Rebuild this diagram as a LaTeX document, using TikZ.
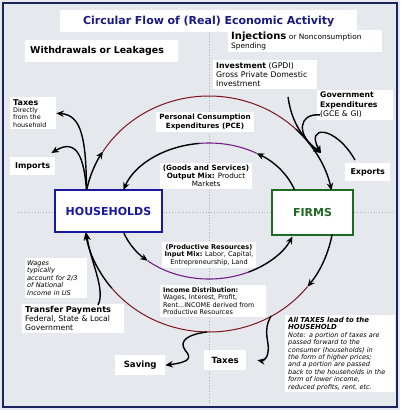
\documentclass[tikz,border=0pt]{standalone}
\usepackage{fontspec}
\setmainfont{DejaVu Sans}
\usetikzlibrary{arrows.meta,calc}
\definecolor{framenavy}{RGB}{28,36,96}
\definecolor{paper}{RGB}{229,232,237}
\definecolor{titleblue}{RGB}{26,26,135}
\definecolor{hhblue}{RGB}{25,25,160}
\definecolor{firmgreen}{RGB}{30,105,35}
\definecolor{arcred}{RGB}{125,20,30}
\definecolor{arcpurple}{RGB}{115,30,140}
\def\ellarc[#1](#2)(#3:#4:#5:#6){\draw[#1] ($(#2)+(#3:#5 and #6)$) arc (#3:#4:#5 and #6);}
\tikzset{
	lbl/.style={fill=white, inner sep=3pt, align=left, anchor=north west},
	sector/.style={draw=#1, line width=1.6pt, fill=white, text=#1, font=\bfseries\fontsize{11}{13}\selectfont},
	flow/.style={line width=1.4pt, -{Stealth[length=7.5pt,width=6.5pt]}},
	rarc/.style={draw=arcred, line width=1pt},
	parc/.style={draw=arcpurple, line width=1.1pt},
	guide/.style={draw=gray!60, dotted, line width=0.8pt}
}

\begin{document}
\begin{tikzpicture}[x=1pt,y=1pt]
			%%%%% START %%%%%
			\useasboundingbox (0,0) rectangle (400,-410);
			\fill[paper] (0,0) rectangle (400,-410);
			\draw[framenavy, line width=2.5pt] (3,-3) rectangle (397,-407);
			
			\draw[guide] (209,-30) -- (209,-404);
			\draw[guide] (18,-212) -- (395,-212);
			
			\node[lbl, text width=291pt, align=center, minimum height=22pt, text=titleblue, font=\bfseries\fontsize{11}{12}\selectfont] (title) at (60,-10) {Circular Flow of (Real) Economic Activity};
			\node[lbl, inner xsep=5pt, text width=143pt, minimum height=22pt, font=\bfseries\fontsize{9.4}{10}\selectfont] (withdraw) at (25,-40) {Withdrawals or Leakages};
			\node[lbl, text width=148pt, inner ysep=2pt, font=\fontsize{7.4}{9}\selectfont] (inject) at (228,-30) {{\bfseries\fontsize{10}{10}\selectfont Injections} or Nonconsumption\\Spending};
			\node[lbl, text width=98pt, inner ysep=2pt, font=\fontsize{7.8}{9.4}\selectfont] (invest) at (213,-60) {\textbf{Investment} (GPDI)\\Gross Private Domestic\\Investment};
			\node[lbl, text width=70pt, inner ysep=2pt, font=\fontsize{7.7}{9.4}\selectfont] (gov) at (317,-90) {\textbf{Government}\\\textbf{Expenditures}\\(GCE \& GI)};
			\node[lbl, text width=40pt, inner ysep=2pt, font=\fontsize{6.4}{7.4}\selectfont] (taxTop) at (10,-97) {{\bfseries\fontsize{8}{9}\selectfont Taxes}\\Directly\\from the\\household};
			\node[lbl, text width=39pt, align=center, minimum height=18pt, font=\bfseries\fontsize{8}{9}\selectfont] (imports) at (10,-157) {Imports};
			\node[lbl, text width=39pt, align=center, minimum height=18pt, font=\bfseries\fontsize{8}{9}\selectfont] (exports) at (345,-163) {Exports};
			
			\node[sector=hhblue, minimum width=107pt, minimum height=42pt] (house) at (108.5,-211) {HOUSEHOLDS};
			\node[sector=firmgreen, minimum width=81pt, minimum height=45pt] (firms) at (312.5,-212.5) {FIRMS};
			
			\node[lbl, anchor=center, align=center, inner ysep=2pt, font=\bfseries\fontsize{7.2}{8.6}\selectfont] (pce) at (205,-122) {Personal Consumption\\Expenditures (PCE)};
			\node[lbl, anchor=center, align=center, inner ysep=2pt, font=\fontsize{7.2}{8.2}\selectfont] (goods) at (206,-176) {\textbf{(Goods and Services)}\\\textbf{Output Mix:} Product\\Markets};
			\node[lbl, anchor=center, align=center, inner ysep=2pt, font=\fontsize{6.6}{7.6}\selectfont] (inputs) at (209,-255) {\textbf{(Productive Resources)}\\\textbf{Input Mix:} Labor, Capital,\\Entrepreneurship, Land};
			\node[lbl, text width=100pt, inner ysep=2pt, font=\fontsize{6.5}{7.6}\selectfont] (income) at (160,-285) {\textbf{Income Distribution:}\\Wages, Interest, Profit,\\Rent...INCOME derived from\\Productive Resources};
			\node[lbl, inner sep=2pt, text width=58pt, font=\itshape\fontsize{6.6}{7.6}\selectfont] (wages) at (25,-258) {Wages\\typically\\account for 2/3\\of National\\Income in US};
			\node[lbl, text width=96pt, inner ysep=2pt, font=\fontsize{7.7}{9}\selectfont] (transfer) at (22,-304) {{\bfseries\fontsize{8.2}{9}\selectfont Transfer Payments}\\Federal, State \& Local\\Government};
			\node[lbl, text width=44pt, align=center, minimum height=20pt, font=\bfseries\fontsize{8.6}{10}\selectfont] (saving) at (115,-355) {Saving};
			\node[lbl, text width=36pt, align=center, minimum height=20pt, font=\bfseries\fontsize{8.6}{10}\selectfont] (taxBot) at (204,-350) {Taxes};
			\node[lbl, text width=104pt, inner ysep=2pt, font=\itshape\fontsize{6.5}{7.4}\selectfont] (note) at (285,-315) {{\bfseries\fontsize{6.9}{7.6}\selectfont All TAXES lead to the\\HOUSEHOLD}\\Note: a portion of taxes are\\passed forward to the\\consumer (households) in\\the form of higher prices;\\and a portion are passed\\back to the households in the\\form of lower income,\\reduced profits, rent, etc.};
			
			\coordinate (outer) at (209,-214);
			\coordinate (inner) at (209,-211);
			
			% outer loop
			\ellarc[flow](outer)(168:148:125:118)
			\ellarc[rarc](outer)(148:46:125:118)
			\ellarc[flow](outer)(46:11.5:125:118)
			\ellarc[flow](outer)(-10:-38:125:118)
			\ellarc[rarc](outer)(-38:-141:125:118)
			\ellarc[flow](outer)(-141:-171:125:118)
			
			% inner loop
			\ellarc[flow](inner)(18:58:90:68)
			\ellarc[parc](inner)(58:96:90:68)
			\ellarc[flow](inner)(96:162:90:68)
			\ellarc[flow](inner)(-161:-133:90:68)
			\ellarc[parc](inner)(-133:-64:90:68)
			\ellarc[flow](inner)(-64:-22:90:68)
			
			% leakages and injections
			\coordinate (hhLeak) at (86.5,-189.6);
			\coordinate (invFoot) at (288,-97);
			\coordinate (joinTop) at (321,-153);
			\coordinate (savFoot) at (207,-332);
			\coordinate (taxFoot) at (271,-316);
			\coordinate (trFoot) at (98,-305);
			
			\draw[flow] (hhLeak) .. controls (86,-140) and (82,-115) .. (taxTop.east);
			\draw[flow] (hhLeak) .. controls (84,-160) and (78,-137) .. ([xshift=-4pt,yshift=4pt]imports.north east);
			\draw[flow] (invFoot) .. controls (292,-125) and (305,-140) .. (joinTop);
			\draw[flow] ([shift={(3pt,5pt)}]gov.south west) .. controls (298,-113) and (296,-135) .. (joinTop);
			\draw[flow] ([xshift=10pt,yshift=3pt]exports.north west) .. controls (335,-125) and (305,-125) .. (joinTop);
			\draw[flow] (savFoot) .. controls (190,-334) and (178,-340) .. (185,-350) .. controls (192,-358) and (190,-362) .. (saving.east);
			\draw[flow] (taxFoot) .. controls (262,-332) and (270,-342) .. (268,-352) .. controls (267,-360) and (262,-361) .. ([xshift=11pt]taxBot.east);
			\draw[flow] (trFoot) .. controls (106,-290) and (90,-260) .. (house.south west -| hhLeak);
			
			%%%%% END %%%%%
\end{tikzpicture}
\end{document}
